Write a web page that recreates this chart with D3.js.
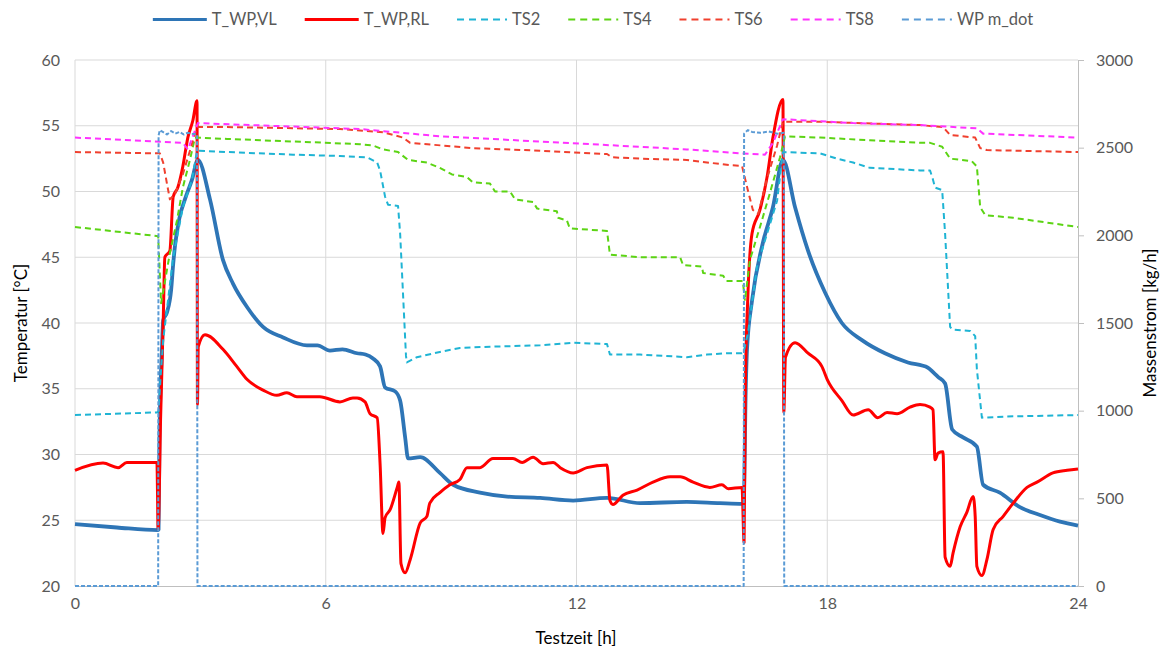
<!DOCTYPE html>
<html>
<head>
<meta charset="utf-8">
<script src="https://cdn.jsdelivr.net/npm/d3@7"></script>
<style>
  html, body { margin: 0; padding: 0; background: #fff; }
  svg { display: block; font-family: Lato, "Open Sans", "Liberation Sans", sans-serif; }
</style>
</head>
<body>
<svg id="chart" width="1169" height="649"></svg>
<script>
// Test run: heat pump supply/return temperatures, storage sensors and mass flow over 24 h
const xTicks = [0, 6, 12, 18, 24];
const yLeftTicks = [20, 25, 30, 35, 40, 45, 50, 55, 60];
const yRightTicks = [0, 500, 1000, 1500, 2000, 2500, 3000];

// [time h, °C]
const tVL = [[0,24.7],[1,24.45],[1.98,24.25],[2.0,24.3],[2.02,31],[2.08,38],[2.11,40.2],[2.2,40.8],[2.3,42.5],[2.35,44.5],[2.39,45.8],[2.5,48],[2.63,49.4],[2.8,50.9],[2.94,52.4],[3.23,49.4],[3.54,44.8],[3.78,43.0],[4.12,41.2],[4.5,39.7],[4.98,38.9],[5.55,38.3],[5.8,38.3],[6.1,37.9],[6.4,38.0],[6.75,37.7],[6.95,37.6],[7.13,37.3],[7.30,36.7],[7.42,35.1],[7.66,34.8],[7.78,34.1],[7.90,31.3],[7.97,29.7],[8.26,29.8],[8.73,28.6],[9.05,27.7],[9.69,27.1],[10.34,26.8],[11.13,26.7],[11.92,26.5],[12.73,26.7],[13.52,26.3],[14.64,26.4],[15.43,26.3],[15.98,26.25],[16.0,26.3],[16.05,35],[16.08,38],[16.2,41.7],[16.46,46.1],[16.70,48.8],[16.94,52.4],[17.23,48.8],[17.54,45.5],[17.95,42.3],[18.35,40.0],[18.83,38.7],[19.38,37.7],[19.93,37.0],[20.41,36.6],[20.55,36.2],[20.65,35.9],[20.82,35.4],[20.99,31.9],[21.25,31.3],[21.58,30.6],[21.73,27.7],[22.13,27.1],[22.61,26.0],[23.09,25.4],[23.57,24.9],[24,24.6]];

const tRL = [[0,28.8],[0.67,29.35],[1.03,29.0],[1.24,29.4],[1.96,29.4],[1.99,24.3],[2.05,33],[2.11,40],[2.15,45.0],[2.27,45.5],[2.35,49.6],[2.46,50.3],[2.58,51.9],[2.70,54.1],[2.82,55.4],[2.92,56.9],[2.93,33.8],[2.95,38.2],[3.11,39.1],[3.54,38.0],[3.87,36.7],[4.12,35.7],[4.5,34.9],[4.83,34.5],[5.07,34.7],[5.31,34.4],[5.86,34.4],[6.34,34.0],[6.65,34.3],[6.75,34.3],[6.94,34.0],[7.06,33.1],[7.23,32.8],[7.30,29.3],[7.37,24.0],[7.42,25.2],[7.54,25.8],[7.71,27.5],[7.75,27.9],[7.80,21.7],[7.90,21.0],[8.02,22.0],[8.26,24.8],[8.42,25.3],[8.49,26.3],[8.73,27.1],[8.97,27.7],[9.21,28.1],[9.38,29.0],[9.69,29.0],[10.00,29.7],[10.48,29.7],[10.70,29.4],[10.96,29.8],[11.20,29.3],[11.44,29.4],[11.61,29.0],[11.92,28.6],[12.25,29.0],[12.73,29.2],[12.80,26.5],[12.87,26.2],[13.11,26.9],[13.45,27.3],[13.83,27.9],[14.24,28.3],[14.48,28.3],[14.79,27.9],[15.19,27.5],[15.48,27.7],[15.63,27.4],[15.96,27.5],[16.01,23.3],[16.04,35],[16.1,42],[16.20,46.8],[16.39,48.6],[16.56,51.1],[16.70,54.1],[16.94,57.0],[16.96,33.2],[17.0,37.4],[17.23,38.5],[17.54,37.7],[17.87,36.7],[18.0,35.7],[18.35,34.1],[18.62,33.0],[18.98,33.4],[19.21,32.8],[19.43,33.2],[19.67,33.1],[19.98,33.6],[20.22,33.8],[20.46,33.6],[20.53,33.4],[20.58,29.6],[20.65,30.1],[20.77,30.2],[20.82,22.2],[20.94,21.5],[21.01,22.5],[21.18,24.5],[21.34,25.6],[21.49,26.8],[21.54,25.3],[21.58,21.5],[21.70,20.8],[21.82,22.0],[21.97,24.3],[22.21,25.3],[22.45,26.3],[22.78,27.5],[23.02,27.9],[23.40,28.6],[23.74,28.8],[24,28.9]];

const ts2 = [[0,33.0],[1.96,33.2],[2.0,33.3],[2.05,36],[2.11,38.7],[2.35,45.0],[2.58,48.8],[2.80,50.9],[2.92,53.1],[3.64,53.0],[5.22,52.8],[6.34,52.7],[6.99,52.6],[7.23,52.2],[7.30,51.6],[7.42,49.6],[7.49,49.0],[7.73,48.9],[7.78,46.8],[7.92,37.5],[7.94,37.0],[8.18,37.4],[8.73,37.8],[9.21,38.1],[9.93,38.2],[11.13,38.3],[11.92,38.5],[12.73,38.4],[12.80,37.6],[13.52,37.6],[14.64,37.4],[15.12,37.6],[15.60,37.7],[15.96,37.7],[16.0,37.8],[16.10,39.2],[16.32,44.3],[16.56,46.8],[16.80,49.3],[16.94,53.0],[17.83,52.9],[18.23,52.5],[18.62,52.2],[19.02,51.8],[20.22,51.6],[20.46,51.6],[20.53,50.9],[20.58,50.3],[20.75,50.1],[20.82,46.8],[20.94,39.7],[20.99,39.5],[21.42,39.4],[21.54,39.0],[21.58,36.5],[21.70,32.8],[22.45,32.9],[24,33.0]];

const ts4 = [[0,47.3],[1.99,46.6],[2.06,41.5],[2.27,45.3],[2.44,47.8],[2.58,50.3],[2.75,52.4],[2.87,54.1],[3.64,54.0],[6.82,53.6],[7.13,53.5],[7.37,53.2],[7.73,53.0],[7.97,52.4],[8.42,52.2],[8.73,51.8],[9.02,51.3],[9.38,51.1],[9.52,50.7],[9.93,50.6],[10.05,50.0],[10.41,50.0],[10.53,49.4],[10.96,49.2],[11.06,48.7],[11.53,48.5],[11.56,48.0],[11.77,47.8],[11.84,47.2],[12.73,47.0],[12.80,45.2],[13.52,45.0],[14.48,45.0],[14.55,44.4],[15.00,44.3],[15.03,43.8],[15.51,43.6],[15.58,43.2],[15.98,43.2],[16.03,41.7],[16.15,44.8],[16.39,47.3],[16.63,49.9],[16.87,52.6],[16.99,54.2],[17.83,54.1],[19.02,53.9],[20.22,53.7],[20.46,53.7],[20.75,53.4],[20.94,52.5],[21.46,52.3],[21.58,51.9],[21.66,48.8],[21.78,48.2],[22.45,48.0],[24,47.3]];

const ts6 = [[0,53.0],[2.03,52.9],[2.11,52.2],[2.20,50.6],[2.27,49.4],[2.39,49.8],[2.58,51.3],[2.75,53.1],[2.92,54.9],[3.64,54.9],[6.34,54.75],[7.37,54.5],[7.85,54.1],[8.02,53.7],[9.52,53.3],[11.13,53.1],[12.73,52.85],[12.85,52.6],[13.52,52.5],[14.64,52.4],[15.67,52.0],[15.96,51.95],[16.10,50.1],[16.22,48.6],[16.35,48.3],[16.56,51.0],[16.80,53.5],[16.94,55.3],[17.83,55.3],[20.22,55.05],[20.77,54.9],[20.94,54.3],[21.54,54.1],[21.66,53.3],[21.82,53.15],[24,53.0]];

const ts8 = [[0,54.1],[2.58,53.7],[2.70,53.2],[2.94,55.2],[6.82,54.75],[8.73,54.2],[11.13,53.8],[13.52,53.4],[14.64,53.2],[15.91,52.9],[16.51,52.8],[16.70,53.7],[16.94,55.5],[18.62,55.2],[20.22,55.05],[21.58,54.8],[21.73,54.4],[24,54.1]];

// [time h, kg/h]
const mDot = [[0,0],[1.99,0],[2.0,2570],[2.03,2600],[2.1,2590],[2.2,2575],[2.3,2595],[2.4,2580],[2.5,2590],[2.6,2575],[2.7,2585],[2.8,2580],[2.92,2575],[2.93,0],[16.0,0],[16.01,2580],[16.1,2600],[16.2,2590],[16.4,2585],[16.6,2592],[16.8,2580],[16.96,2585],[16.97,0],[24,0]];

const seriesNames = ["T_WP,VL", "T_WP,RL", "TS2", "TS4", "TS6", "TS8", "WP m_dot"];

const svg = d3.select("#chart");
const x = d3.scaleLinear().domain([0, 24]).range([75, 1078]);
const yL = d3.scaleLinear().domain([20, 60]).range([586, 60]);
const yR = d3.scaleLinear().domain([0, 3000]).range([586, 60]);

const gridColor = "#d9d9d9";
const tickText = "#595959";

// horizontal gridlines
svg.append("g").selectAll("line").data(yLeftTicks.slice(1)).join("line")
  .attr("x1", x(0)).attr("x2", x(24))
  .attr("y1", d => yL(d)).attr("y2", d => yL(d))
  .attr("stroke", gridColor).attr("stroke-width", 1);
// vertical gridlines
svg.append("g").selectAll("line").data(xTicks.slice(0, -1)).join("line")
  .attr("x1", d => x(d)).attr("x2", d => x(d))
  .attr("y1", yL(60)).attr("y2", yL(20))
  .attr("stroke", gridColor).attr("stroke-width", 1);

// bottom axis
const gx = svg.append("g").attr("transform", `translate(0,${yL(20)})`)
  .call(d3.axisBottom(x).tickValues(xTicks).tickSize(0).tickPadding(12));
gx.select(".domain").attr("stroke", "#bfbfbf");
gx.selectAll("text").attr("fill", tickText).style("font-size", "16px").style("font-family", "Lato, sans-serif");

// left axis
const gl = svg.append("g").attr("transform", `translate(${x(0)},0)`)
  .call(d3.axisLeft(yL).tickValues(yLeftTicks).tickSize(0).tickPadding(15));
gl.select(".domain").remove();
gl.selectAll("text").attr("fill", tickText).style("font-size", "16px").style("font-family", "Lato, sans-serif");

// right axis
const gr = svg.append("g").attr("transform", `translate(${x(24)},0)`)
  .call(d3.axisRight(yR).tickValues(yRightTicks).tickSize(6).tickPadding(12).tickFormat(d3.format("d")));
gr.select(".domain").attr("stroke", "#bfbfbf");
gr.selectAll("line").attr("stroke", "#bfbfbf");
gr.selectAll("text").attr("fill", tickText).style("font-size", "16px").style("font-family", "Lato, sans-serif");

// axis titles
svg.append("text").attr("x", 576).attr("y", 644).attr("text-anchor", "middle")
  .style("font-size", "17px").attr("fill", "#000").text("Testzeit [h]");
svg.append("text").attr("transform", `translate(27,323) rotate(-90)`).attr("text-anchor", "middle")
  .style("font-size", "17px").attr("fill", "#000").text("Temperatur [°C]");
svg.append("text").attr("transform", `translate(1152,323) rotate(-90)`).attr("text-anchor", "middle")
  .attr("dominant-baseline", "middle")
  .style("font-size", "17px").attr("fill", "#000").text("Massenstrom [kg/h]");

const lineL = d3.line().x(d => x(d[0])).y(d => yL(d[1]));
const lineLSmooth = d3.line().curve(d3.curveMonotoneX).x(d => x(d[0])).y(d => yL(d[1]));
const lineR = d3.line().x(d => x(d[0])).y(d => yR(d[1]));

const styles = [
  { data: tVL, gen: lineLSmooth, color: "#2e75b6", width: 3.8, dash: null },
  { data: tRL, gen: lineLSmooth, color: "#ff0000", width: 3, dash: null },
  { data: ts2, gen: lineL, color: "#1fb4d4", width: 2, dash: "6,4" },
  { data: ts4, gen: lineL, color: "#5cd414", width: 2, dash: "6,4" },
  { data: ts6, gen: lineL, color: "#f0402e", width: 2, dash: "6,4" },
  { data: ts8, gen: lineL, color: "#ff33ff", width: 2, dash: "6,4" },
  { data: mDot, gen: lineR, color: "#5b9bd5", width: 2, dash: "4,2" }
];

const plot = svg.append("g");
styles.forEach(s => {
  plot.append("path").datum(s.data)
    .attr("d", s.gen)
    .attr("fill", "none")
    .attr("stroke", s.color)
    .attr("stroke-width", s.width)
    .attr("stroke-linejoin", "round")
    .attr("stroke-dasharray", s.dash);
});

// legend
const legend = svg.append("g");
let cx = 0;
const gap = 28;
seriesNames.forEach((name, i) => {
  const g = legend.append("g");
  const len = styles[i].dash ? 50 : 54;
  g.append("line").attr("x1", 0).attr("x2", len).attr("y1", 0).attr("y2", 0)
    .attr("stroke", styles[i].color)
    .attr("stroke-width", styles[i].dash ? 2 : 3)
    .attr("stroke-dasharray", styles[i].dash ? "7,5" : null);
  const t = g.append("text").attr("x", len + 5).attr("y", 0).attr("dy", "0.35em")
    .attr("fill", tickText).style("font-size", "16.5px").text(name);
  const w = len + 5 + t.node().getComputedTextLength();
  g.attr("transform", `translate(${cx},0)`);
  cx += w + gap;
});
const total = cx - gap;
legend.attr("transform", `translate(${593 - total / 2},19.5)`);
</script>
</body>
</html>
